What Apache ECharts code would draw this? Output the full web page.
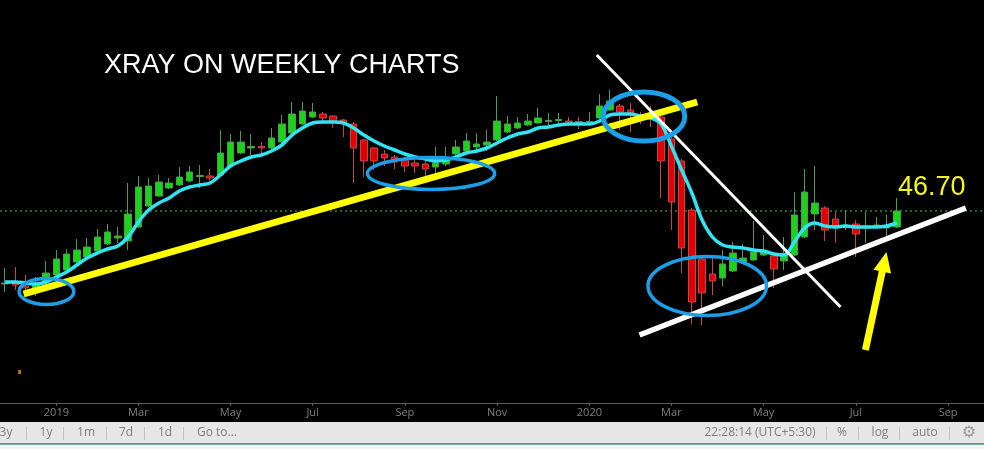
<!DOCTYPE html>
<html><head><meta charset="utf-8">
<script src="https://cdn.jsdelivr.net/npm/echarts@6/dist/echarts.min.js"></script>
<style>html,body{margin:0;padding:0;background:#000;}#c{width:984px;height:449px;}</style>
</head><body><div id="c"></div>
<script>
// ---- categories: weekly bars (Mondays) ----
const weeks = [
'2018-12-03','2018-12-10','2018-12-17','2018-12-24','2018-12-31',
'2019-01-07','2019-01-14','2019-01-21','2019-01-28',
'2019-02-04','2019-02-11','2019-02-18','2019-02-25',
'2019-03-04','2019-03-11','2019-03-18','2019-03-25',
'2019-04-01','2019-04-08','2019-04-15','2019-04-22','2019-04-29',
'2019-05-06','2019-05-13','2019-05-20','2019-05-27',
'2019-06-03','2019-06-10','2019-06-17','2019-06-24',
'2019-07-01','2019-07-08','2019-07-15','2019-07-22','2019-07-29',
'2019-08-05','2019-08-12','2019-08-19','2019-08-26',
'2019-09-02','2019-09-09','2019-09-16','2019-09-23','2019-09-30',
'2019-10-07','2019-10-14','2019-10-21','2019-10-28',
'2019-11-04','2019-11-11','2019-11-18','2019-11-25',
'2019-12-02','2019-12-09','2019-12-16','2019-12-23','2019-12-30',
'2020-01-06','2020-01-13','2020-01-20','2020-01-27',
'2020-02-03','2020-02-10','2020-02-17','2020-02-24',
'2020-03-02','2020-03-09','2020-03-16','2020-03-23','2020-03-30',
'2020-04-06','2020-04-13','2020-04-20','2020-04-27',
'2020-05-04','2020-05-11','2020-05-18','2020-05-25',
'2020-06-01','2020-06-08','2020-06-15','2020-06-22','2020-06-29',
'2020-07-06','2020-07-13','2020-07-20','2020-07-27',
'2020-08-03','2020-08-10','2020-08-17','2020-08-24','2020-08-31',
'2020-09-07','2020-09-14','2020-09-21','2020-09-28'
];
const monthNames = ['Jan','Feb','Mar','Apr','May','Jun','Jul','Aug','Sep','Oct','Nov','Dec'];

// ---- weekly OHLC (estimated) ----
const opens = [
37.94,38.06,37.70,37.46,38.18,39.02,39.62,40.58,41.18,41.90,
42.74,43.46,43.10,44.78,47.30,48.50,49.46,49.82,50.30,50.84,
50.90,51.02,52.10,53.66,54.26,54.44,54.26,54.98,56.06,57.14,
57.98,58.34,58.10,57.62,57.14,55.22,54.26,53.54,53.18,52.94,
52.46,52.34,51.98,52.34,53.54,53.90,54.38,54.62,55.22,56.18,
56.66,57.02,57.26,57.44,57.56,57.50,57.44,57.38,57.86,58.82,
59.30,58.82,58.10,57.98,57.98,55.34,52.70,46.82,40.94,39.14,
38.66,39.50,40.58,40.82,41.42,41.30,40.70,41.42,43.58,46.34,
47.06,45.74,44.78,45.14,44.66,44.78,44.66,44.78];
const closes = [
38.06,37.82,37.46,37.82,39.26,40.94,41.54,42.02,42.38,43.58,
44.18,43.70,46.34,49.58,49.70,50.18,50.06,50.78,51.38,50.96,
50.66,53.66,54.98,54.98,54.44,54.26,55.46,57.14,58.34,58.70,
58.58,57.86,57.50,57.26,54.26,52.70,52.70,53.06,52.58,52.10,
52.10,51.74,52.46,53.06,54.38,55.10,54.74,54.98,57.50,57.14,
57.26,57.50,57.86,57.56,57.68,57.38,57.32,57.44,59.30,59.90,
58.58,58.34,57.86,57.74,52.70,47.78,42.26,35.78,36.86,38.30,
40.34,41.66,41.06,41.78,41.90,39.74,41.54,46.22,48.98,47.66,
44.42,44.90,45.02,43.94,44.90,45.02,44.90,46.70];
const lows = [
36.98,37.22,36.38,36.50,37.94,38.78,39.50,40.46,41.06,41.78,
42.62,42.86,42.02,44.66,47.18,48.38,49.34,49.70,50.18,49.46,
50.30,50.90,51.98,53.54,53.42,53.66,54.14,54.86,55.94,57.02,
57.86,57.38,56.66,55.58,50.06,50.78,51.62,52.10,51.74,51.38,
51.26,50.78,51.26,52.10,53.30,53.78,53.66,53.90,55.10,56.06,
56.54,56.90,57.14,56.90,57.14,56.90,56.54,57.14,57.74,58.70,
56.42,56.18,57.14,56.78,48.26,44.42,39.26,33.14,33.02,36.62,
37.70,39.38,40.46,40.70,41.30,37.46,39.62,41.30,43.46,44.42,
43.10,42.86,44.42,41.18,42.86,44.66,43.70,44.66];
const highs = [
39.86,39.98,39.02,38.78,40.70,42.02,42.14,43.34,43.46,44.54,
45.14,44.78,50.06,50.90,50.66,51.02,50.66,51.98,52.10,52.22,
51.74,56.42,55.94,56.30,55.94,54.98,56.66,58.22,59.78,59.78,
59.66,58.58,58.22,57.74,57.38,55.34,54.38,54.02,53.42,53.18,
52.82,52.82,54.38,54.38,55.22,56.06,56.06,56.42,60.50,58.10,
57.98,58.34,59.06,58.46,58.46,57.98,57.98,58.58,60.74,61.22,
59.54,59.66,58.58,59.30,58.22,55.58,52.94,47.06,41.18,41.06,
42.02,42.98,42.74,45.50,43.82,41.54,43.58,48.98,51.74,52.10,
47.30,46.58,46.82,45.62,46.58,45.98,46.22,48.26];
// moving average line
const movingAvg = [
38.18,38.18,38.06,37.94,38.18,38.78,39.38,40.22,41.06,41.66,
42.14,42.50,43.58,45.38,46.82,47.66,48.26,49.10,49.58,49.82,
50.06,51.02,52.10,52.70,53.18,53.42,53.90,54.62,55.82,56.66,
57.26,57.38,57.38,57.26,56.66,55.82,55.10,54.50,54.02,53.54,
53.18,52.94,52.70,52.82,53.18,53.66,53.90,54.26,54.86,55.46,
55.94,56.18,56.66,56.78,57.02,57.14,57.14,57.14,57.50,58.22,
58.34,58.34,58.10,57.86,57.14,54.50,51.62,48.86,45.62,43.58,
42.62,42.38,42.26,42.02,41.90,41.54,41.42,42.98,44.66,45.26,
44.90,44.78,44.90,44.78,44.78,44.78,44.90,45.26];
const lastPrice = 46.70;

// ---- hand-drawn annotations, in data space [week index, price] ----
const yellowTrend = [[1.80, 36.74], [67.52, 59.78]];
const whiteDownTrend = [[57.72, 65.42], [81.50, 35.18]];
const whiteUpTrend = [[61.89, 31.82], [93.73, 47.06]];
const arrowPath = [[83.93, 30.02], [85.78, 40.60]];
// [centre index, centre price, radius in weeks, radius in price]
const ellipses = [
  [4.03, 37.04, 2.67, 1.56],
  [41.55, 51.20, 6.21, 1.92],
  [62.33, 58.04, 3.98, 2.94],
  [68.50, 37.70, 5.78, 3.54]
];
const stray = [[1.41, 27.38]];
const priceLineSpan = [-0.5, 95.5];

const candles = opens.map((o, i) => [o, closes[i], lows[i], highs[i]]);

function monthOf(s){ return parseInt(s.slice(5,7),10) - 1; }
function isLabelWeek(index, value){
  if (index === 0) return false;
  const m = monthOf(weeks[index]);
  return m !== monthOf(weeks[index-1]) && m % 2 === 0;
}
function labelFor(value){
  const m = monthOf(value);
  return m === 0 ? value.slice(0,4) : monthNames[m];
}

const chart = echarts.init(document.getElementById('c'), null, {renderer:'canvas'});

const uiFont = '12px "Open Sans", "DejaVu Sans", sans-serif';
const uiColor = '#7e7e7e';
function uiText(t, x){
  return {type:'text', x:x, y:433, silent:true, style:{text:t, fill:uiColor, font:uiFont,
    align:'center', verticalAlign:'middle', textAlign:'center', textVerticalAlign:'middle'}};
}
function uiSep(x){
  return {type:'line', silent:true, shape:{x1:x+0.5, y1:427, x2:x+0.5, y2:440}, style:{stroke:'#c2c2c2', lineWidth:1}};
}

const option = {
  backgroundColor: '#000',
  animation: false,
  grid: {left: -2.65, top: 0, width: 988.8, height: 403},
  xAxis: [{
    type: 'category', data: weeks, boundaryGap: true,
    axisLine: {lineStyle: {color: '#5c5c5c', width: 1}},
    axisTick: {show: true, alignWithLabel: true, interval: isLabelWeek, length: 3, lineStyle: {color: '#5c5c5c'}},
    axisLabel: {interval: isLabelWeek, formatter: labelFor, color: '#7f7f7f',
      fontFamily: '"Open Sans", "DejaVu Sans", sans-serif', fontSize: 11, margin: 4},
    splitLine: {show: false}
  }, {
    type: 'value', min: -0.5, max: 95.5, show: false
  }],
  yAxis: {type: 'value', min: 23.66, max: 72.02, show: false, splitLine: {show: false}},
  series: [{
    type: 'line', xAxisIndex: 1, yAxisIndex: 0, z: 1, symbol: 'none', silent: true,
    data: priceLineSpan.map(x => [x, lastPrice]),
    lineStyle: {color: '#3fcf3f', type: [2,3], width: 1}
  }, {
    type: 'candlestick', xAxisIndex: 0, yAxisIndex: 0, data: candles, barWidth: 7, z: 2,
    itemStyle: {color: '#19d419', color0: '#e40000', borderColor: '#4f9a4f', borderColor0: '#c04848', borderWidth: 1}
  }, {
    type: 'line', xAxisIndex: 0, yAxisIndex: 0, data: movingAvg, smooth: 0.35, symbol: 'none', z: 3,
    lineStyle: {color: '#30e4f4', width: 3.5}
  }, {
    type: 'scatter', xAxisIndex: 1, yAxisIndex: 0, data: stray, symbol: 'rect', symbolSize: [3,4], z: 4,
    itemStyle: {color: '#e08a10'}, silent: true,
    markLine: {
      silent: true, label: {show: false}, symbol: ['none','none'],
      data: [
        [{coord: yellowTrend[0], lineStyle: {color: '#ffff00', width: 7, type: 'solid'}}, {coord: yellowTrend[1]}],
        [{coord: whiteDownTrend[0], lineStyle: {color: '#ffffff', width: 3, type: 'solid'}}, {coord: whiteDownTrend[1]}],
        [{coord: whiteUpTrend[0], lineStyle: {color: '#ffffff', width: 5.5, type: 'solid'}}, {coord: whiteUpTrend[1]}],
        [{coord: arrowPath[0], symbol: 'none', lineStyle: {color: '#ffff00', width: 7, type: 'solid'}, itemStyle: {color: '#ffff00'}},
         {coord: arrowPath[1], symbol: 'triangle', symbolSize: [18, 20], itemStyle: {color: '#ffff00'}}]
      ]
    }
  }, {
    type: 'custom', xAxisIndex: 1, yAxisIndex: 0, data: ellipses, z: 5, silent: true, clip: false,
    encode: {x: 0, y: 1},
    renderItem: function(params, api){
      const c = api.coord([api.value(0), api.value(1)]);
      const s = api.size([api.value(2), api.value(3)]);
      return {type: 'ellipse', shape: {cx: c[0], cy: c[1], rx: s[0], ry: s[1]},
        style: {fill: 'none', stroke: '#1c9fe6', lineWidth: params.dataIndex === 2 ? 5 : 3.5}};
    }
  }],
  graphic: [
    {type:'text', left:104, top:52, silent:true, style:{text:'XRAY ON WEEKLY CHARTS', fill:'#ffffff', font:'27px "Liberation Sans", Arial, sans-serif'}},
    {type:'text', left:898, top:174, silent:true, style:{text:lastPrice.toFixed(2), fill:'#f4f41e', font:'27px "Liberation Sans", Arial, sans-serif'}},
    {type:'rect', silent:true, shape:{x:0, y:422, width:984, height:21}, style:{fill:'#e6e6e6'}},
    {type:'rect', silent:true, shape:{x:0, y:443, width:984, height:1.5}, style:{fill:'#3f9fb3'}},
    {type:'rect', silent:true, shape:{x:0, y:444.5, width:984, height:5}, style:{fill:'#eef6f7'}},
    uiText('3y', 6), uiSep(26), uiText('1y', 46), uiSep(63), uiText('1m', 86), uiSep(106),
    uiText('7d', 126), uiSep(144), uiText('1d', 165), uiSep(183), uiText('Go to...', 217),
    uiText('22:28:14 (UTC+5:30)', 760), uiSep(826), uiText('%', 842), uiSep(858), uiText('log', 880),
    uiSep(899), uiText('auto', 925), uiSep(949),
    {type:'text', x:969, y:433, silent:true, style:{text:'\u2699', fill:'#9a9a9a', font:'16px "DejaVu Sans", sans-serif',
      align:'center', verticalAlign:'middle', textAlign:'center', textVerticalAlign:'middle'}}
  ]
};
chart.setOption(option);
</script></body></html>
